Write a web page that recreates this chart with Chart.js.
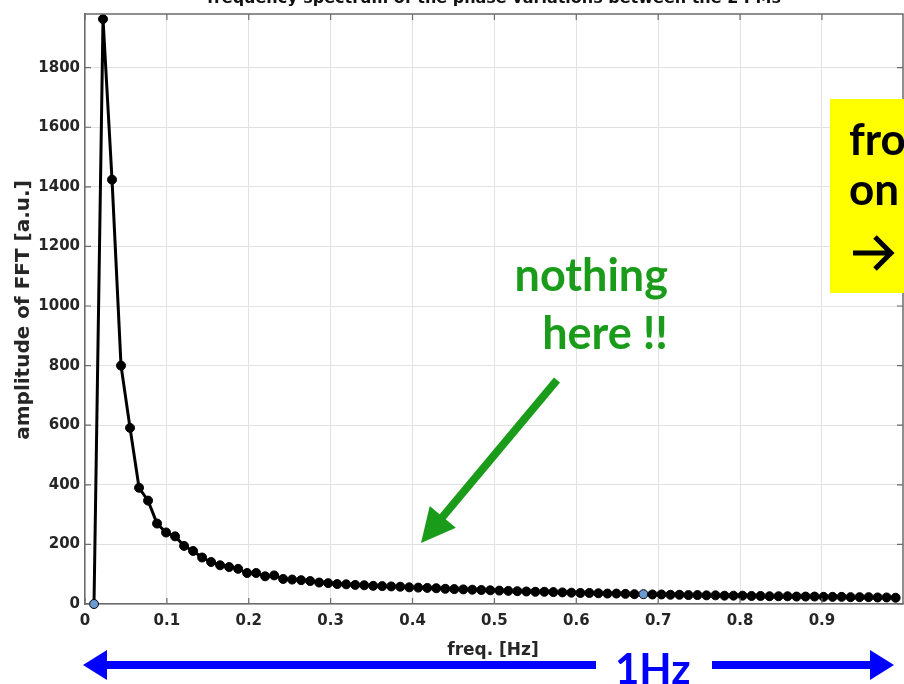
<!DOCTYPE html>
<html>
<head>
<meta charset="utf-8">
<script src="https://cdn.jsdelivr.net/npm/chart.js@4"></script>
<style>
  body { margin: 0; background: #fff; }
  #my-chart { display: block; }
</style>
</head>
<body>
<canvas id="my-chart" width="904" height="684"></canvas>
<script>
'use strict';
// data
let freqs = [
  0.011, 0.022, 0.033, 0.044, 0.055, 0.066, 0.077, 0.088, 0.099, 0.110,
  0.121, 0.132, 0.143, 0.154, 0.165, 0.176, 0.187, 0.198, 0.209, 0.220,
  0.231, 0.242, 0.253, 0.264, 0.275, 0.286, 0.297, 0.308, 0.319, 0.330,
  0.341, 0.352, 0.363, 0.374, 0.385, 0.396, 0.407, 0.418, 0.429, 0.440,
  0.451, 0.462, 0.473, 0.484, 0.495, 0.506, 0.517, 0.528, 0.539, 0.550,
  0.561, 0.572, 0.583, 0.594, 0.605, 0.616, 0.627, 0.638, 0.649, 0.660,
  0.671, 0.682, 0.693, 0.704, 0.715, 0.726, 0.737, 0.748, 0.759, 0.770,
  0.781, 0.792, 0.803, 0.814, 0.825, 0.836, 0.847, 0.858, 0.869, 0.880,
  0.891, 0.902, 0.913, 0.924, 0.935, 0.946, 0.957, 0.968, 0.979, 0.990
]
let amplitudes = [
  0, 1963, 1424, 800, 591, 390, 347, 270, 240, 227,
  195, 178, 156, 141, 130, 124, 118, 104, 104, 93,
  96, 84, 82, 80, 77, 72, 70, 67, 66, 64,
  63, 61, 60, 59, 58, 56, 55, 54, 53, 51,
  50, 49, 48, 47, 46, 45, 44, 43, 42, 41,
  41, 40, 39, 38, 37, 37, 36, 35, 35, 34,
  33, 33, 32, 32, 31, 31, 30, 30, 29, 29,
  28, 28, 28, 27, 27, 26, 26, 26, 25, 25,
  25, 24, 24, 24, 23, 23, 23, 22, 22, 21
]
// the two data tips shown in blue
let markedPoints = [0, 61]
let xTicks = [0, 0.1, 0.2, 0.3, 0.4, 0.5, 0.6, 0.7, 0.8, 0.9]
let yTicks = [0, 200, 400, 600, 800, 1000, 1200, 1400, 1600, 1800]

let titleText = 'frequency spectrum of the phase variations between the 2 PMs'
let xTitle = 'freq. [Hz]'
let yTitle = 'amplitude of FFT [a.u.]'

let points = []
for (let i = 0; i < freqs.length; i++) {
  points.push({ x: freqs[i], y: amplitudes[i] })
}

function arrowHead(c, tipX, tipY, dirX, dirY, len, half) {
  let d = Math.sqrt(dirX * dirX + dirY * dirY)
  let ux = dirX / d, uy = dirY / d
  let bx = tipX - ux * len, by = tipY - uy * len
  c.beginPath()
  c.moveTo(tipX, tipY)
  c.lineTo(bx - uy * half, by + ux * half)
  c.lineTo(bx + uy * half, by - ux * half)
  c.closePath()
  c.fill()
}

// title, axis titles, inner ticks and the slide annotations
const extras = {
  id: 'extras',
  afterDraw(chart) {
    let c = chart.ctx
    let area = chart.chartArea
    let xs = chart.scales.x
    let ys = chart.scales.y
    c.save()

    // box top/right lines + inward ticks
    c.strokeStyle = '#6b6b6b'
    c.lineWidth = 1.5
    c.beginPath()
    c.moveTo(area.left, area.top)
    c.lineTo(area.right, area.top)
    c.lineTo(area.right, area.bottom)
    c.stroke()
    c.lineWidth = 1.2
    c.beginPath()
    for (let t of xTicks) {
      let px = xs.getPixelForValue(t)
      c.moveTo(px, area.bottom); c.lineTo(px, area.bottom - 6)
      c.moveTo(px, area.top); c.lineTo(px, area.top + 6)
    }
    for (let t of yTicks) {
      let py = ys.getPixelForValue(t)
      c.moveTo(area.left, py); c.lineTo(area.left + 6, py)
      c.moveTo(area.right, py); c.lineTo(area.right - 6, py)
    }
    c.stroke()

    // cut-off title
    c.fillStyle = '#111'
    c.font = 'bold 16px "DejaVu Sans"'
    c.textAlign = 'center'
    c.textBaseline = 'alphabetic'
    c.fillText(titleText, (area.left + area.right) / 2, 3)

    // axis titles
    c.fillStyle = '#262626'
    c.font = 'bold 17px "DejaVu Sans"'
    c.fillText(xTitle, 493, 655)
    c.save()
    c.translate(29, 310)
    c.rotate(-Math.PI / 2)
    c.font = 'bold 20px "DejaVu Sans"'
    c.fillText(yTitle, 0, 0)
    c.restore()

    // green note + arrow
    let green = '#1a9c1a'
    c.fillStyle = green
    c.font = 'bold 45px Lato'
    c.textAlign = 'right'
    c.fillText('nothing', 668, 291)
    c.fillText('here !!', 668, 349)
    c.strokeStyle = green
    c.lineWidth = 8
    c.beginPath()
    c.moveTo(557, 380)
    c.lineTo(440, 520)
    c.stroke()
    arrowHead(c, 421, 543, -136, 163, 34, 17)

    // yellow box on the right edge
    c.fillStyle = '#ffff00'
    c.fillRect(830, 99, 80, 194)
    c.fillStyle = '#000'
    c.textAlign = 'left'
    c.font = 'bold 44px Lato'
    c.fillText('fro', 849, 155)
    c.fillText('on', 849, 205)
    c.strokeStyle = '#000'
    c.lineWidth = 5
    c.beginPath()
    c.moveTo(853, 253); c.lineTo(889, 253)
    c.moveTo(875, 237); c.lineTo(891, 253); c.lineTo(875, 269)
    c.stroke()

    // blue 1Hz span arrow
    let blue = '#0000ff'
    c.fillStyle = blue
    c.strokeStyle = blue
    c.lineWidth = 8
    c.beginPath()
    c.moveTo(100, 665); c.lineTo(596, 665)
    c.moveTo(712, 665); c.lineTo(876, 665)
    c.stroke()
    arrowHead(c, 83, 665, -1, 0, 24, 15)
    arrowHead(c, 894, 665, 1, 0, 24, 15)
    c.font = 'bold 42px Lato'
    c.textAlign = 'left'
    c.fillText('1Hz', 615, 684)

    c.restore()
  }
}

const ctx = document.getElementById('my-chart').getContext('2d')
const myChart = new Chart(ctx, {
  type: 'line',
  data: {
    datasets: [{
      data: points,
      borderColor: '#000',
      borderWidth: 3,
      pointRadius: 4.5,
      pointBorderWidth: 1,
      pointBorderColor: '#000',
      pointBackgroundColor: (p) => markedPoints.includes(p.dataIndex) ? '#6a9bd0' : '#000',
      tension: 0,
      clip: false
    }]
  },
  options: {
    responsive: false,
    animation: false,
    // no auto padding, so the box runs to the canvas edge
    layout: { autoPadding: false, padding: { top: 10, right: 1, left: 0, bottom: 0 } },
    plugins: {
      legend: { display: false },
      tooltip: { enabled: false }
    },
    scales: {
      x: {
        type: 'linear',
        min: 0,
        max: 0.999,
        afterFit: (s) => { s.height = 80 },
        afterBuildTicks: (s) => { s.ticks = xTicks.map(v => ({ value: v })) },
        grid: { color: '#e2e2e2', lineWidth: 1, drawTicks: false },
        border: { color: '#6b6b6b', width: 1.5 },
        ticks: {
          padding: 8,
          color: '#262626',
          font: { family: 'DejaVu Sans', weight: 'bold', size: 15 },
          callback: (v) => String(v)
        }
      },
      y: {
        min: 0,
        max: 1980,
        afterFit: (s) => { s.width = 85 },
        afterBuildTicks: (s) => { s.ticks = yTicks.map(v => ({ value: v })) },
        grid: { color: '#e2e2e2', lineWidth: 1, drawTicks: false },
        border: { color: '#6b6b6b', width: 1.5 },
        ticks: {
          padding: 5,
          color: '#262626',
          font: { family: 'DejaVu Sans', weight: 'bold', size: 15 },
          callback: (v) => String(v)
        }
      }
    }
  },
  plugins: [extras]
})
</script>
</body>
</html>
